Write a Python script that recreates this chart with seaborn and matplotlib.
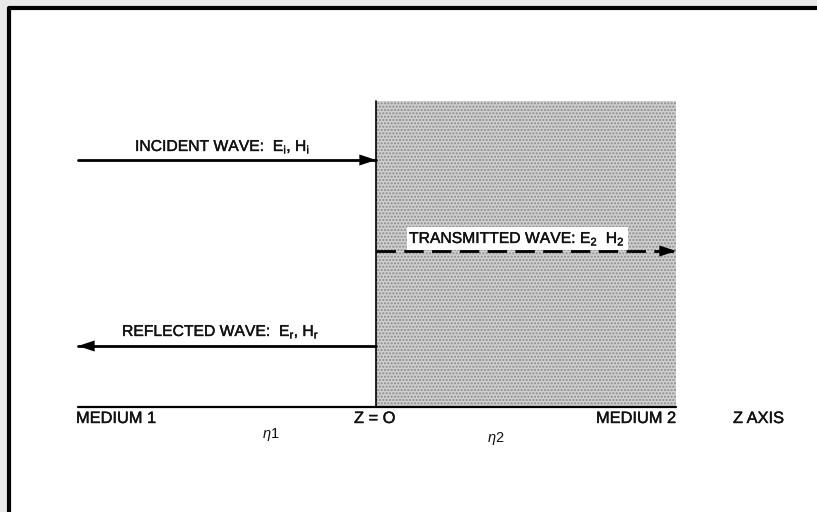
import matplotlib
matplotlib.use("Agg")
import matplotlib.pyplot as plt
import matplotlib.patheffects as pe
import seaborn as sns
import pandas as pd
from matplotlib.patches import Rectangle

sns.set_theme(style="white")
plt.rcParams['font.family'] = ['Liberation Sans', 'DejaVu Sans']
plt.rcParams['mathtext.fontset'] = 'custom'
plt.rcParams['mathtext.rm'] = 'Liberation Sans'
plt.rcParams['mathtext.it'] = 'Liberation Sans:italic'

# ---- data (diagram coordinates, z along horizontal) ----
wave_names = ["incident", "transmitted", "reflected"]
wave_labels = [r"INCIDENT WAVE:  E$_\mathregular{i}$, H$_\mathregular{i}$",
               r"TRANSMITTED WAVE: E$_\mathregular{2}$  H$_\mathregular{2}$",
               r"REFLECTED WAVE:  E$_\mathregular{r}$, H$_\mathregular{r}$"]
wave_level = [160, 251, 346]
wave_start = [78, 376, 376]
wave_end = [376, 676, 78]
wave_dashed = [False, True, False]

medium1_left = 78
interface_z = 376
medium2_right = 676
region_top = 101
baseline = 407

axis_labels = ["MEDIUM 1", "Z = O", "MEDIUM 2", "Z AXIS"]
axis_label_x = [76, 354, 596, 733]
eta_labels = [r"$\eta$1", r"$\eta$2"]
eta_x = [262, 487]
eta_y = [438, 442]

thick = [pe.withStroke(linewidth=0.3, foreground='#111111')]

fig = plt.figure(figsize=(8.17, 5.12), dpi=100)
fig.patch.set_facecolor('#e9e9e9')
ax = fig.add_axes([0, 0, 1, 1])
ax.axis('off')

# white page with frame
ax.add_patch(Rectangle((9, 8), 830, 520, facecolor='white', edgecolor='none', zorder=0))
ax.plot([9, 9, 840], [530, 8, 8], color='black', lw=3, solid_capstyle='butt', zorder=1)

# medium 2 shaded region
ax.add_patch(Rectangle((interface_z, region_top), medium2_right - interface_z, baseline - region_top,
                       facecolor='#cfcfcf', edgecolor='#8a8a8a', hatch='.....', lw=0, zorder=1))
ax.plot([interface_z, interface_z], [region_top, baseline], color='black', lw=1.2, zorder=3)

# baseline (z axis)
base_df = pd.DataFrame({"z": [medium1_left, medium2_right], "y": [baseline, baseline]})
sns.lineplot(data=base_df, x="z", y="y", color='black', lw=1.6, ax=ax, sort=False, zorder=3)

# wave lines
rows = []
for n, s, e, l in zip(wave_names, wave_start, wave_end, wave_level):
    rows.append({"wave": n, "z": s, "y": l})
    rows.append({"wave": n, "z": e, "y": l})
df = pd.DataFrame(rows)
for n, d in zip(wave_names, wave_dashed):
    sub = df[df.wave == n]
    sns.lineplot(data=sub, x="z", y="y", color='black', lw=2.0, ax=ax, sort=False,
                 linestyle=(0, (7, 3)) if d else '-', zorder=4)

# arrow heads
for s, e, l in zip(wave_start, wave_end, wave_level):
    direction = 1 if e > s else -1
    ax.annotate("", xy=(e, l), xytext=(e - direction * 20, l),
                arrowprops=dict(arrowstyle='-|>,head_length=1.2,head_width=0.4', color='black',
                                lw=0, mutation_scale=10, shrinkA=0, shrinkB=0), zorder=5)

# wave labels
label_pos = [(135, 151), (409, 243), (122, 336)]
for (x, y), t, n in zip(label_pos, wave_labels, wave_names):
    kw = {}
    if n == "transmitted":
        kw['bbox'] = dict(facecolor='white', edgecolor='none', pad=1.5)
    ax.text(x, y, t, fontsize=11.3, color='#111111', ha='left', va='baseline', zorder=6,
            path_effects=thick, **kw)

# axis labels
for t, x in zip(axis_labels, axis_label_x):
    ax.text(x, 423, t, fontsize=11.8, color='#111111', ha='left', va='baseline', path_effects=thick)
for t, x, y in zip(eta_labels, eta_x, eta_y):
    ax.text(x, y, t, fontsize=10.5, color='#111111', ha='left', va='baseline')

ax.set_xlim(0, 817)
ax.set_ylim(512, 0)
ax.axis('off')
fig.savefig("out.png", dpi=100, facecolor=fig.get_facecolor())
